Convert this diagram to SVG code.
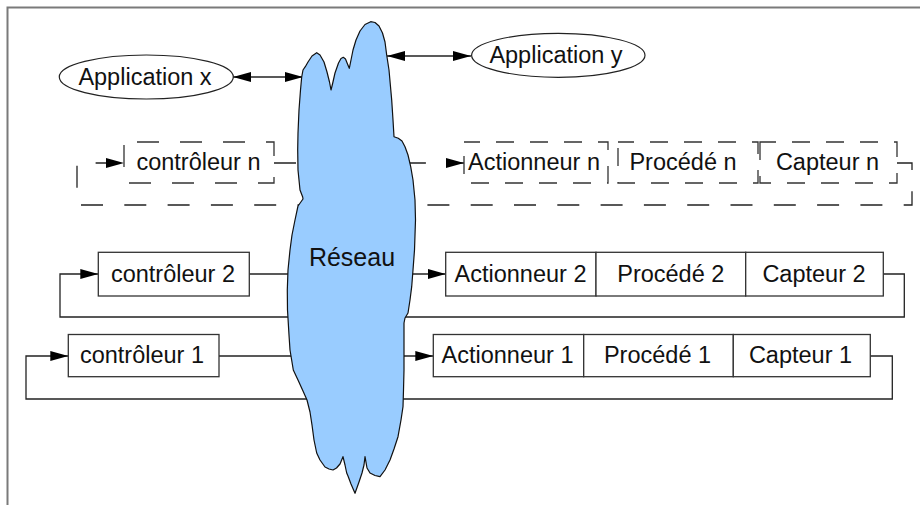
<svg xmlns="http://www.w3.org/2000/svg" width="920" height="505" viewBox="0 0 920 505">
<defs>
<style>
.t{font-family:"Liberation Sans",Arial,sans-serif;font-size:23.5px;fill:#111;text-anchor:middle}
.box{fill:#fff;stroke:#333;stroke-width:1.3}
.dbox{fill:none;stroke:#333;stroke-width:1.3;stroke-dasharray:22 21}
.ln{fill:none;stroke:#222;stroke-width:1.3}
.dln{fill:none;stroke:#222;stroke-width:1.3;stroke-dasharray:22 21.3}
.ell{fill:#fff;stroke:#222;stroke-width:1.2}
</style>
<marker id="arr" markerUnits="userSpaceOnUse" markerWidth="19" markerHeight="11" refX="18" refY="5" orient="auto-start-reverse" viewBox="0 0 19 11">
<path d="M0,0 L18,5 L0,10 z" fill="#000"/>
</marker>
</defs>
<rect width="920" height="505" fill="#fff"/>
<path d="M7.5,505 V7.5 H920" fill="none" stroke="#7a7a7a" stroke-width="2"/>

<g id="connectors">
<path class="ln" d="M233,77 H303" marker-start="url(#arr)" marker-end="url(#arr)"/>
<path class="ln" d="M387,56 H471" marker-start="url(#arr)" marker-end="url(#arr)"/>
<path class="dln" d="M274,163 H464" marker-end="url(#arr)"/>
<path class="dln" d="M897,163 H912 V205 H77 V163 H124" marker-end="url(#arr)"/>
<path class="ln" d="M249.3,274 H445.7" marker-end="url(#arr)"/>
<path class="ln" d="M883.3,274 H904.3 V317 H60 V274 H98.3" marker-end="url(#arr)"/>
<path class="ln" d="M219,356 H433.3" marker-end="url(#arr)"/>
<path class="ln" d="M870.3,356 H892.3 V399 H26 V356 H68.3" marker-end="url(#arr)"/>
</g>

<g id="reseau">
<path fill="#99ccff" stroke="#111" stroke-width="1.2" stroke-linejoin="round" d="M316.7,52.7 L320,55 L324,62 L327,72 L329.5,82 L331,90 L332.5,84 L335,73 L338.5,63 L341,58.5 L343.3,57.3 L345.5,59 L347.5,64 L349.3,68.3 L351,60 L353,50 L356,40 L360,31 L365,24.5 L370.7,21.7 L375,22.5 L379,26 L382.5,33 L385,42 L386.7,55 L389,70 L391.7,100 L393,120 L394,136.7 L398.3,138.3 L402,141 L405,146.7 L408,155 L410.7,166.7 L413,180 L415,200 L415.5,220 L414.5,250 L413,270 L411.7,286.7 L410,300 L408,313 L405,318 L404,323 L404,345 L404,370 L403.5,390 L403,406.7 L401,420 L398,436.7 L394,449 L390,460 L385,470 L380,476.7 L375,475.5 L370,473 L367,468 L365,456.7 L364,465 L362,473 L359,482 L355,493.3 L351,484 L348,476 L346.7,473 L345,465 L343,456.7 L340,464 L336.5,468 L333,470 L329,469 L325,467 L320,460 L316.7,453 L314,440 L312,425 L310,412 L307,400 L303,391 L298,380 L293.3,370 L290,350 L289,335 L287.5,310 L287.3,290 L288,270 L290,250 L292,235 L295,220 L298,206 L303,199 L302.7,197 L300,190 L298,170 L297.7,150 L298,133 L299,110 L300.5,90 L301.7,77 L303,70 L305.3,66.7 L308,62 L312,56 Z"/>
<text class="t" x="352" y="265.7" style="font-size:25px">Réseau</text>
</g>

<g id="app-x">
<ellipse class="ell" cx="146.3" cy="77" rx="87" ry="22"/>
<text class="t" x="145" y="84.7">Application x</text>
</g>
<g id="app-y">
<ellipse class="ell" cx="558.3" cy="55.3" rx="86.7" ry="22"/>
<text class="t" x="556" y="63">Application y</text>
</g>

<g id="ctrl-n">
<rect class="dbox" x="124" y="142" width="150" height="41" style="stroke-dashoffset:30"/>
<text class="t" x="198.5" y="170.3">contrôleur n</text>
</g>
<g id="act-n">
<rect class="dbox" x="464" y="142" width="144" height="41" style="stroke-dasharray:18 16;stroke-dashoffset:2"/>
<text class="t" x="534" y="170.3">Actionneur n</text>
</g>
<g id="proc-n">
<rect class="dbox" x="618" y="142" width="140" height="41" style="stroke-dasharray:18 16;stroke-dashoffset:2"/>
<text class="t" x="683" y="170.3">Procédé n</text>
</g>
<g id="capt-n">
<rect class="dbox" x="760" y="142" width="137" height="41" style="stroke-dasharray:18 16;stroke-dashoffset:2"/>
<text class="t" x="827.5" y="170.3">Capteur n</text>
</g>

<g id="ctrl-2">
<rect class="box" x="98.3" y="252.3" width="151" height="43.7"/>
<text class="t" x="173" y="282">contrôleur 2</text>
</g>
<g id="act-2">
<rect class="box" x="445.7" y="252.3" width="150.3" height="43.7"/>
<text class="t" x="520.5" y="282">Actionneur 2</text>
</g>
<g id="proc-2">
<rect class="box" x="596" y="252.3" width="149.7" height="43.7"/>
<text class="t" x="670.8" y="282">Procédé 2</text>
</g>
<g id="capt-2">
<rect class="box" x="745.7" y="252.3" width="137.6" height="43.7"/>
<text class="t" x="814" y="282">Capteur 2</text>
</g>

<g id="ctrl-1">
<rect class="box" x="68.3" y="334.5" width="150.7" height="42.2"/>
<text class="t" x="142" y="363.3">contrôleur 1</text>
</g>
<g id="act-1">
<rect class="box" x="433.3" y="334.5" width="150.4" height="42.2"/>
<text class="t" x="507.5" y="363.3">Actionneur 1</text>
</g>
<g id="proc-1">
<rect class="box" x="583.7" y="334.5" width="149.6" height="42.2"/>
<text class="t" x="657.5" y="363.3">Procédé 1</text>
</g>
<g id="capt-1">
<rect class="box" x="733.3" y="334.5" width="137" height="42.2"/>
<text class="t" x="800.5" y="363.3">Capteur 1</text>
</g>
</svg>
